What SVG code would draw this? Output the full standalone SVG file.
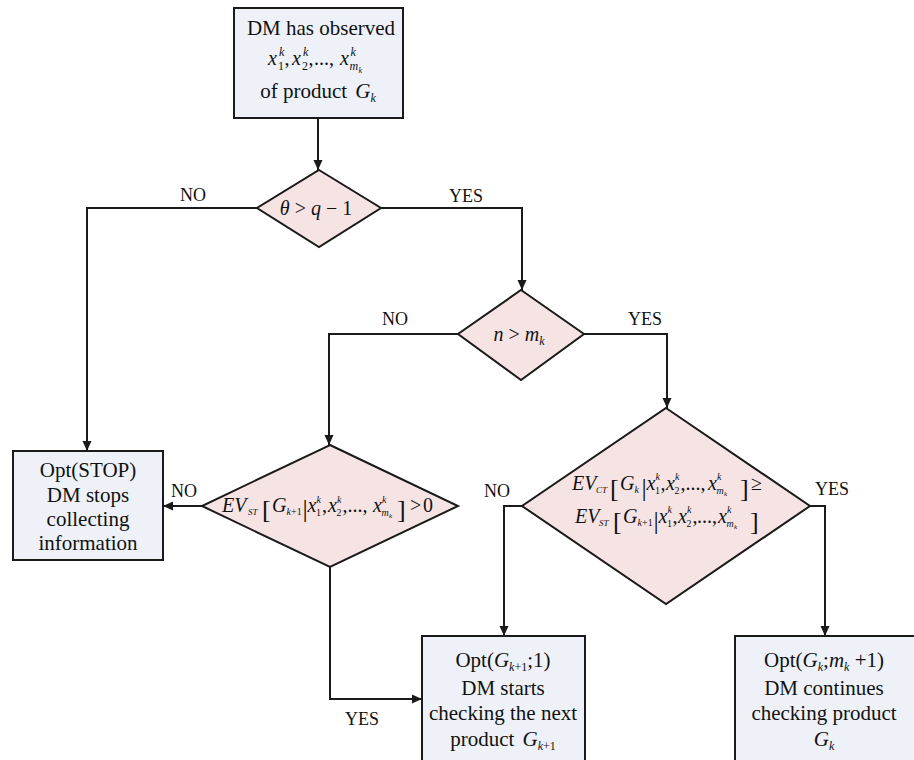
<svg xmlns="http://www.w3.org/2000/svg" width="914" height="760" viewBox="0 0 914 760">
<style>
.box{fill:#eef2f8;stroke:#1a1a1a;stroke-width:2}
.dia{fill:#f6e4e4;stroke:#1a1a1a;stroke-width:2}
.conn{fill:none;stroke:#1a1a1a;stroke-width:2}
text{font-family:"Liberation Serif","Times New Roman",serif;fill:#111;font-size:20px}
.c{text-anchor:middle}
.b{font-size:21px}
.i{font-style:italic}
.lbl{font-size:18px;text-anchor:middle}
</style>
<defs>
<marker id="arr" markerUnits="userSpaceOnUse" markerWidth="10" markerHeight="10" refX="10" refY="5" orient="auto">
<path d="M0,0.5 L10,5 L0,9.5 z" fill="#1a1a1a"/>
</marker>
</defs>
<rect width="914" height="760" fill="#ffffff"/>

<g id="connectors">
<path class="conn" d="M318,118 V170" marker-end="url(#arr)"/>
<path class="conn" d="M257,208 H87 V451" marker-end="url(#arr)"/>
<path class="conn" d="M381,208 H522 V290" marker-end="url(#arr)"/>
<path class="conn" d="M458,334 H329 V445" marker-end="url(#arr)"/>
<path class="conn" d="M584,334 H667 V408" marker-end="url(#arr)"/>
<path class="conn" d="M202,506 H163" marker-end="url(#arr)"/>
<path class="conn" d="M330,567 V699 H422" marker-end="url(#arr)"/>
<path class="conn" d="M522,506 H504 V636" marker-end="url(#arr)"/>
<path class="conn" d="M810,506 H825 V636" marker-end="url(#arr)"/>
<text class="lbl" x="193" y="201">NO</text>
<text class="lbl" x="466" y="202">YES</text>
<text class="lbl" x="395" y="325">NO</text>
<text class="lbl" x="645" y="325">YES</text>
<text class="lbl" x="184" y="497">NO</text>
<text class="lbl" x="362" y="725">YES</text>
<text class="lbl" x="497" y="497">NO</text>
<text class="lbl" x="832" y="495">YES</text>
</g>

<g id="start">
<rect class="box" x="234" y="8" width="169" height="110"/>
<text class="c b" x="321" y="35">DM has observed</text>
<text><tspan x="268" y="65" class="i">x</tspan><tspan x="278" y="70" font-size="12">1</tspan><tspan x="279" y="56" font-size="12" class="i">k</tspan><tspan x="284.5" y="65">,</tspan><tspan x="292" y="65" class="i">x</tspan><tspan x="302" y="70" font-size="12">2</tspan><tspan x="303" y="56" font-size="12" class="i">k</tspan><tspan x="308.5" y="65">,</tspan><tspan x="314" y="65">...,</tspan><tspan x="340" y="65" class="i">x</tspan><tspan x="349.5" y="70" font-size="12" class="i">m</tspan><tspan x="358.5" y="73" font-size="8" class="i">k</tspan><tspan x="350.5" y="56" font-size="12" class="i">k</tspan></text>
<text class="c b" x="318" y="98">of product <tspan class="i" dx="3">G</tspan><tspan class="i" font-size="12" dy="4">k</tspan></text>
</g>

<g id="cond-theta">
<polygon class="dia" points="319,170 381,208 319,247 257,208"/>
<text class="c" x="316" y="215"><tspan class="i">θ</tspan> &gt; <tspan class="i">q</tspan> − 1</text>
</g>

<g id="cond-n">
<polygon class="dia" points="521,290 584,334 521,380 458,334"/>
<text class="c" x="519" y="341"><tspan class="i">n</tspan> &gt; <tspan class="i">m</tspan><tspan class="i" font-size="12" dy="4">k</tspan></text>
</g>

<g id="cond-ev-st">
<polygon class="dia" points="330,445 458,506 330,567 202,506"/>
<text font-size="19"><tspan x="222" y="512" class="i">EV</tspan><tspan x="248" y="515" font-size="9" class="i">ST</tspan><tspan x="262" y="518" font-size="26">[</tspan><tspan x="272" y="512" class="i">G</tspan><tspan x="286.5" y="515" font-size="10" class="i">k</tspan><tspan x="291" y="515" font-size="10">+1</tspan><tspan x="302.5" y="517" font-size="26">|</tspan><tspan x="307.5" y="512" class="i">x</tspan><tspan x="316" y="516" font-size="10">1</tspan><tspan x="316.5" y="503" font-size="10" class="i">k</tspan><tspan x="322" y="512">,</tspan><tspan x="328" y="512" class="i">x</tspan><tspan x="336.5" y="516" font-size="10">2</tspan><tspan x="337" y="503" font-size="10" class="i">k</tspan><tspan x="342.5" y="512">,</tspan><tspan x="347.5" y="512">...,</tspan><tspan x="373" y="512" class="i">x</tspan><tspan x="381.5" y="516" font-size="10" class="i">m</tspan><tspan x="389" y="518" font-size="7" class="i">k</tspan><tspan x="382" y="503" font-size="10" class="i">k</tspan><tspan x="397" y="518" font-size="26">]</tspan><tspan x="410" y="512">&gt;</tspan><tspan x="423" y="512">0</tspan></text>
</g>

<g id="cond-ev-compare">
<polygon class="dia" points="666,408 810,506 666,604 522,506"/>
<text font-size="19"><tspan x="572" y="490" class="i">EV</tspan><tspan x="596" y="493" font-size="9" class="i">CT</tspan><tspan x="610" y="497" font-size="26">[</tspan><tspan x="620" y="490" class="i">G</tspan><tspan x="634.5" y="493" font-size="10" class="i">k</tspan><tspan x="641.5" y="496" font-size="26">|</tspan><tspan x="646.5" y="490" class="i">x</tspan><tspan x="655" y="494" font-size="10">1</tspan><tspan x="655.5" y="480" font-size="10" class="i">k</tspan><tspan x="660.5" y="490">,</tspan><tspan x="666" y="490" class="i">x</tspan><tspan x="674.5" y="494" font-size="10">2</tspan><tspan x="675" y="480" font-size="10" class="i">k</tspan><tspan x="680.5" y="490">,</tspan><tspan x="685.5" y="490">...,</tspan><tspan x="708" y="490" class="i">x</tspan><tspan x="716.5" y="494" font-size="10" class="i">m</tspan><tspan x="724" y="496" font-size="7" class="i">k</tspan><tspan x="717" y="480" font-size="10" class="i">k</tspan><tspan x="740" y="497" font-size="26">]</tspan><tspan x="751" y="490">≥</tspan></text>
<text font-size="19"><tspan x="575" y="523" class="i">EV</tspan><tspan x="599" y="526" font-size="9" class="i">ST</tspan><tspan x="613" y="530" font-size="26">[</tspan><tspan x="623" y="523" class="i">G</tspan><tspan x="637.5" y="526" font-size="10" class="i">k</tspan><tspan x="642" y="526" font-size="10">+1</tspan><tspan x="653.5" y="529" font-size="26">|</tspan><tspan x="658.5" y="523" class="i">x</tspan><tspan x="667" y="527" font-size="10">1</tspan><tspan x="667.5" y="513" font-size="10" class="i">k</tspan><tspan x="672.5" y="523">,</tspan><tspan x="678" y="523" class="i">x</tspan><tspan x="686.5" y="527" font-size="10">2</tspan><tspan x="687" y="513" font-size="10" class="i">k</tspan><tspan x="692.5" y="523">,</tspan><tspan x="697" y="523">...,</tspan><tspan x="718" y="523" class="i">x</tspan><tspan x="726.5" y="527" font-size="10" class="i">m</tspan><tspan x="734" y="529" font-size="7" class="i">k</tspan><tspan x="727" y="513" font-size="10" class="i">k</tspan><tspan x="750" y="530" font-size="26">]</tspan></text>
</g>

<g id="opt-stop">
<rect class="box" x="13" y="451" width="150" height="109"/>
<text class="c b" x="88" y="477">Opt(STOP)</text>
<text class="c b" x="88" y="502">DM stops</text>
<text class="c b" x="88" y="526">collecting</text>
<text class="c b" x="88" y="550">information</text>
</g>

<g id="opt-next">
<rect class="box" x="422" y="636" width="163" height="130"/>
<text class="c b" x="503" y="667">Opt(<tspan class="i">G</tspan><tspan font-size="12" dy="4"><tspan class="i">k</tspan>+1</tspan><tspan dy="-4">;1)</tspan></text>
<text class="c b" x="503" y="695">DM starts</text>
<text class="c b" x="503" y="720">checking the next</text>
<text class="c b" x="503" y="746">product <tspan class="i" dx="3">G</tspan><tspan font-size="12" dy="4"><tspan class="i">k</tspan>+1</tspan></text>
</g>

<g id="opt-continue">
<rect class="box" x="735" y="636" width="190" height="130"/>
<text class="c b" x="824" y="667">Opt(<tspan class="i">G</tspan><tspan class="i" font-size="12" dy="4">k</tspan><tspan dy="-4">;</tspan><tspan class="i">m</tspan><tspan class="i" font-size="12" dy="4">k</tspan><tspan dy="-4"> +1)</tspan></text>
<text class="c b" x="824" y="695">DM continues</text>
<text class="c b" x="824" y="720">checking product</text>
<text class="c b" x="824" y="746"><tspan class="i">G</tspan><tspan class="i" font-size="12" dy="4">k</tspan></text>
</g>
</svg>
